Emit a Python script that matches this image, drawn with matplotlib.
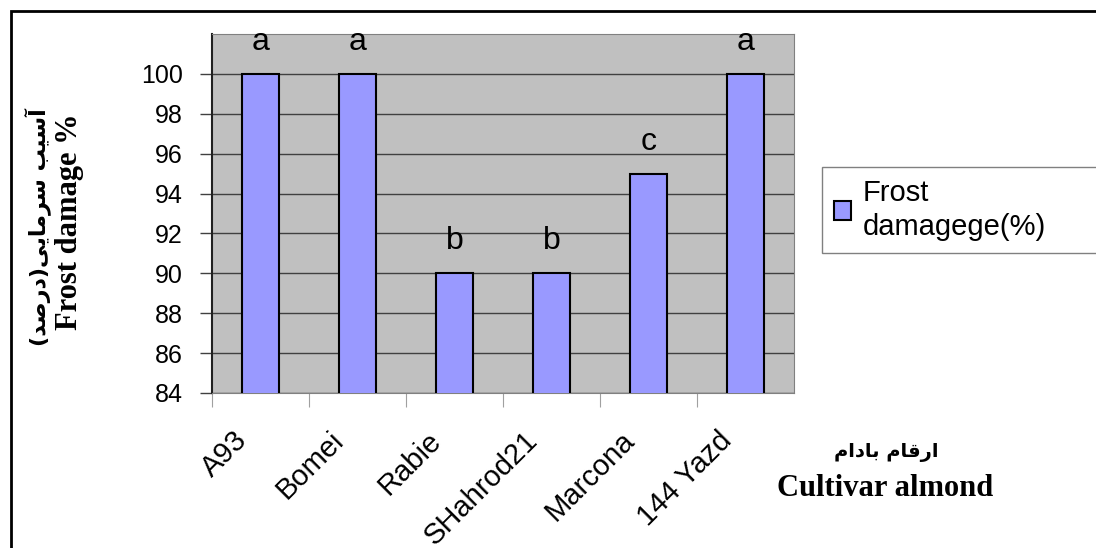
import numpy as np
import matplotlib.pyplot as plt
from matplotlib.patches import Rectangle
from matplotlib.transforms import ScaledTranslation

cultivars = ['A93', 'Bomei', 'Rabie', 'SHahrod21', 'Marcona', '144 Yazd']
damage = [100, 100, 90, 90, 95, 100]
letters = ['a', 'a', 'b', 'b', 'c', 'a']
yticks = [84, 86, 88, 90, 92, 94, 96, 98, 100]

ylabel_fa = 'آسیب سرمایی(درصد)'
xlabel_fa = 'ارقام بادام'

# arabic presentation forms: iso, fin, init, med (None for right-joining letters)
forms = {
    'آ': ('\uFE81', '\uFE82', None, None),
    'ا': ('\uFE8D', '\uFE8E', None, None),
    'ب': ('\uFE8F', '\uFE90', '\uFE91', '\uFE92'),
    'س': ('\uFEB1', '\uFEB2', '\uFEB3', '\uFEB4'),
    'ی': ('\uFBFC', '\uFBFD', '\uFBFE', '\uFBFF'),
    'ر': ('\uFEAD', '\uFEAE', None, None),
    'م': ('\uFEE1', '\uFEE2', '\uFEE3', '\uFEE4'),
    'د': ('\uFEA9', '\uFEAA', None, None),
    'ص': ('\uFEB9', '\uFEBA', '\uFEBB', '\uFEBC'),
    'ق': ('\uFED5', '\uFED6', '\uFED7', '\uFED8'),
}


def shape(s):
    out = []
    for i, ch in enumerate(s):
        if ch not in forms:
            out.append(ch)
            continue
        prev = s[i - 1] if i > 0 else ''
        nxt = s[i + 1] if i + 1 < len(s) else ''
        jp = prev in forms and forms[prev][2] is not None
        jn = forms[ch][2] is not None and nxt in forms
        f = forms[ch]
        if jp and jn:
            out.append(f[3])
        elif jp:
            out.append(f[1])
        elif jn:
            out.append(f[2])
        else:
            out.append(f[0])
    vis = ''.join(out[::-1])
    return vis.translate(str.maketrans('()', ')('))


plt.rcParams['font.family'] = ['Liberation Sans', 'DejaVu Sans']

fig = plt.figure(figsize=(10.96, 5.48), dpi=100)
fig.patches.append(Rectangle((11 / 1096, -0.1), 1.2, (548 - 11) / 548 + 0.1,
                             transform=fig.transFigure, fill=False,
                             edgecolor='black', linewidth=2))

ax = fig.add_axes([212 / 1096, (548 - 393) / 548, 582 / 1096, 359 / 548])
ax.set_facecolor('#c0c0c0')
x = np.arange(len(cultivars))
ax.bar(x, damage, width=0.38, color='#9999ff', edgecolor='black', linewidth=1.5,
       label='Frost\ndamagege(%)', zorder=3)
for xi, v, l in zip(x, damage, letters):
    ax.text(xi, v + 1.2, l, ha='center', va='baseline', fontsize=23)

ax.set_ylim(84, 102)
ax.set_xlim(-0.5, len(cultivars) - 0.5)
ax.set_yticks(yticks)
ax.tick_params(axis='y', labelsize=18, length=9, width=1, color='#404040', pad=12)
ax.yaxis.grid(True, color='#404040', linewidth=1, zorder=1)
ax.set_axisbelow(True)

ax.set_xticks(x - 0.5, minor=False)
ax.set_xticklabels([])
ax.tick_params(axis='x', length=10, color='#a0a0a0')
ax.set_xticks(x, minor=True)
ax.set_xticklabels(cultivars, minor=True, rotation=45, ha='right', va='top',
                   rotation_mode='anchor', fontsize=21)
ax.tick_params(axis='x', which='minor', length=0, pad=24)
shift = ScaledTranslation(-0.28, 0, fig.dpi_scale_trans)
for lab in ax.get_xticklabels(minor=True):
    lab.set_transform(lab.get_transform() + shift)

for s in ['top', 'right', 'bottom']:
    ax.spines[s].set_color('#808080')
ax.spines['left'].set_color('#202020')
ax.spines['left'].set_linewidth(1.5)

leg = ax.legend(loc='upper left', mode='expand',
                bbox_to_anchor=(822 / 1096, 1 - 257 / 548, 290 / 1096, 90 / 548),
                bbox_transform=fig.transFigure, fontsize=21, frameon=True,
                fancybox=False, edgecolor='#606060', handlelength=0.6,
                handleheight=0.6, borderpad=0.4, handletextpad=0.4,
                borderaxespad=0)
leg.get_texts()[0].set_linespacing(1.3)

fig.text(38 / 1096, 1 - 227 / 548, shape(ylabel_fa), rotation=90, ha='center',
         va='center', fontsize=16, fontweight='bold', family=['DejaVu Sans'])
fig.text(70 / 1096, 1 - 222 / 548, 'Frost damage %', rotation=90, ha='center',
         va='center', fontsize=22, fontweight='bold', family=['Liberation Serif'])
fig.text(886 / 1096, 1 - 452 / 548, shape(xlabel_fa), ha='center', va='center',
         fontsize=14, fontweight='bold', family=['DejaVu Sans'])
fig.text(885 / 1096, 1 - 489 / 548, 'Cultivar almond', ha='center', va='center',
         fontsize=22, fontweight='bold', family=['Liberation Serif'])

plt.savefig('out.png', dpi=100)
